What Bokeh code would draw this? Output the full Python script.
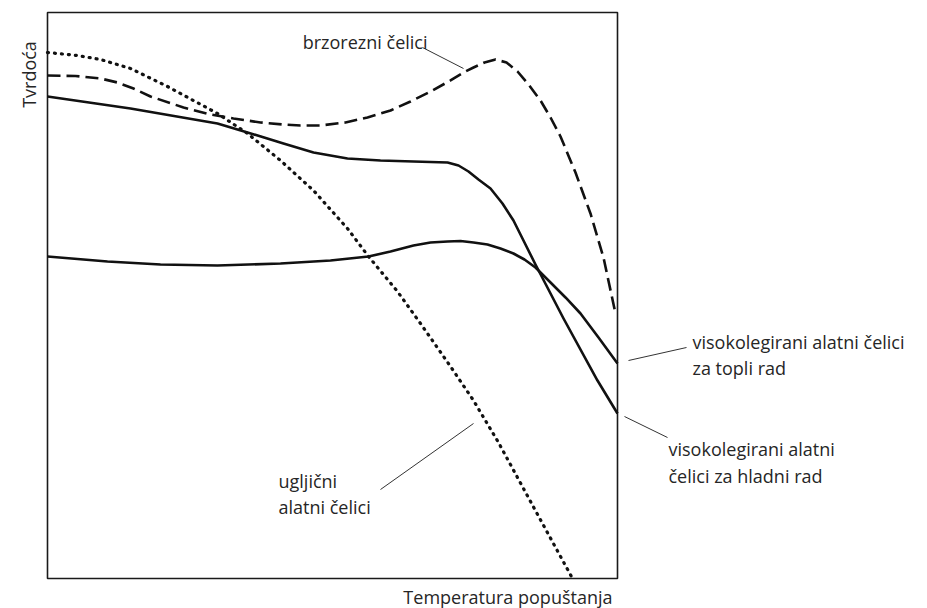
from bokeh.plotting import figure
from bokeh.models import Range1d
from bokeh.core.properties import value
from bokeh.embed import file_html
from bokeh.resources import INLINE

# ---- data (x: tempering temperature, y: hardness; relative units 0..100) ----
carbon_x = [0, 5.26, 9.30, 14.56, 21.05, 29.82, 35.09, 40.88, 46.67, 52.63, 56.32,
            61.40, 65.44, 70.70, 74.74, 79.12, 85.79, 92.11]
carbon_y = [92.93, 92.40, 91.70, 90.11, 86.93, 82.16, 78.62, 73.85, 68.55, 61.84, 56.89,
            50.71, 45.05, 37.46, 31.45, 24.03, 11.66, 0.0]

hss_x = [0, 4.91, 9.30, 12.28, 15.09, 18.07, 23.86, 28.60, 32.63, 37.37, 41.40, 44.39,
         47.89, 52.28, 56.14, 60.18, 63.68, 67.19, 70.70, 72.98, 74.74, 76.67, 78.60,
         80.53, 82.46, 84.39, 86.49, 88.25, 90.00, 92.63, 95.26, 97.54, 99.65]
hss_y = [88.87, 88.78, 88.34, 87.63, 86.57, 85.16, 83.22, 81.98, 81.27, 80.57, 80.21, 80.04,
         80.04, 80.57, 81.45, 82.69, 84.28, 86.04, 87.99, 89.40, 90.28, 91.17, 91.70,
         91.17, 89.58, 87.28, 84.45, 81.45, 78.09, 71.73, 64.49, 56.71, 46.82]

cold_x = [0, 14.56, 29.82, 35.09, 41.40, 46.67, 52.63, 58.42, 64.21, 70.18, 72.11, 73.86,
          75.61, 77.72, 79.82, 81.75, 83.68, 85.61, 90.53, 96.49, 100]
cold_y = [85.16, 83.04, 80.39, 78.80, 76.86, 75.27, 74.20, 73.85, 73.67, 73.50, 72.97, 71.91,
          70.49, 68.90, 66.25, 63.25, 59.36, 55.48, 45.94, 34.98, 29.15]

hot_x = [0, 10.53, 19.82, 29.82, 40.88, 49.65, 56.32, 60.18, 64.21, 67.19, 70.18, 72.46,
         74.74, 77.19, 79.47, 81.75, 83.68, 85.61, 88.25, 90.88, 93.51, 96.67, 100]
hot_y = [56.89, 56.01, 55.48, 55.30, 55.65, 56.18, 56.89, 57.77, 58.83, 59.36, 59.54, 59.63,
         59.36, 59.01, 58.30, 57.42, 56.36, 54.95, 52.30, 49.65, 46.82, 42.58, 37.99]

x_label = "Temperatura popuštanja"
y_label = "Tvrdoća"
lbl_hss = ["brzorezni čelici"]
lbl_hot = ["visokolegirani alatni čelici", "za topli rad"]
lbl_cold = ["visokolegirani alatni", "čelici za hladni rad"]
lbl_carbon = ["ugljični", "alatni čelici"]

# ---- layout: canvas pixels -> data units ----
W, H = 927, 608
SX, SY = 5.7, 5.66            # pixels per data unit
X0_PX, Y0_PX = 47, 578        # canvas pixel of data (0, 0)

p = figure(width=W, height=H, output_backend="svg", toolbar_location=None,
           x_axis_type=None, y_axis_type=None,
           x_range=Range1d(-X0_PX / SX, (W - X0_PX) / SX),
           y_range=Range1d(-(H - Y0_PX) / SY, Y0_PX / SY),
           min_border=0, outline_line_color=None, background_fill_color="white",
           border_fill_color="white")
p.grid.visible = False

# axes box
p.quad(left=[0], right=[100], bottom=[0], top=[100], fill_color=None,
       line_color="#1a1a1a", line_width=1.6)

INK = "#111111"
p.line(hot_x, hot_y, line_color=INK, line_width=2.6, line_join="round")
p.line(cold_x, cold_y, line_color=INK, line_width=2.6, line_join="round")
p.line(hss_x, hss_y, line_color=INK, line_width=2.6, line_dash="13 6", line_join="round")
p.line(carbon_x, carbon_y, line_color=INK, line_width=3.2, line_dash="1 6",
       line_cap="round", line_join="round")


def R(xr):  # canvas pixel -> data x
    return (xr - X0_PX) / SX


def U(yr):  # canvas pixel -> data y
    return (Y0_PX - yr) / SY


# leader lines
lead = dict(line_color="#333333", line_width=1)
p.segment(x0=[R(422), R(628), R(624), R(380)], y0=[U(47), U(360), U(416), U(489)],
          x1=[R(463), R(686), R(667), R(473)], y1=[U(68), U(347), U(437), U(423)], **lead)

FONT = value("Open Sans")
TXT = "#262626"
FS = "18px"
common = dict(text_font=FONT, text_font_size=FS, text_color=TXT,
              text_baseline="alphabetic")

p.text(x=[R(427)], y=[U(41)], text=lbl_hss, text_align="right", **common)
p.text(x=[R(692)] * 2, y=[U(341), U(367)], text=lbl_hot, text_align="left", **common)
p.text(x=[R(668)] * 2, y=[U(448), U(475)], text=lbl_cold, text_align="left", **common)
p.text(x=[R(278)] * 2, y=[U(480), U(506)], text=lbl_carbon, text_align="left", **common)
p.text(x=[R(612)], y=[U(596)], text=[x_label], text_align="right", **common)
p.text(x=[R(28)], y=[U(74)], text=[y_label], text_align="center", angle=1.5707963,
       **common)

open("out.html", "w").write(file_html(p, INLINE))
